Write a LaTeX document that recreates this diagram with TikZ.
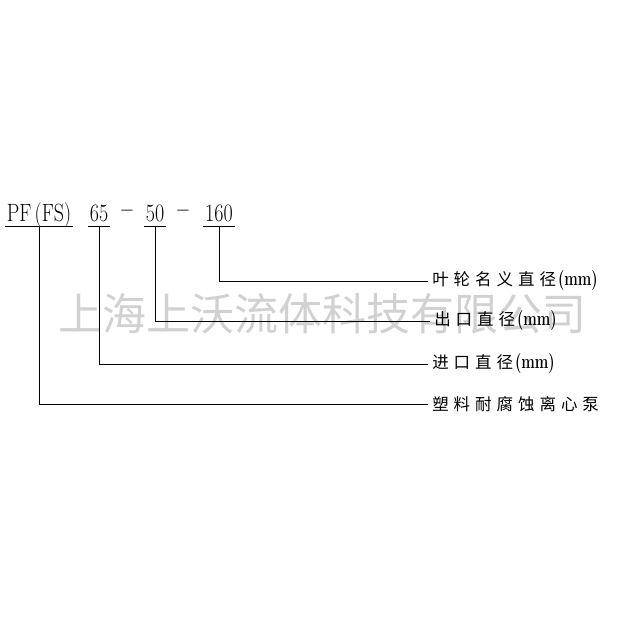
\documentclass[tikz,border=0pt]{standalone}
\usepackage{fontspec}
\newfontfamily\cjk[LetterSpace=30]{Noto Sans CJK SC}
\newfontfamily\wmark{Noto Sans CJK SC}
\newcommand{\code}[1]{\scalebox{0.8}[1]{#1}}
\newcommand{\mmunit}{\kern2pt\rmfamily\bfseries\fontsize{20}{20}\selectfont\scalebox{0.72}[1]{(mm)}}

\begin{document}
\begin{tikzpicture}[x=1pt,y=-1pt,line width=0.6pt,
  part/.style={font=\fontsize{25}{25}\selectfont,anchor=base,text depth=0pt,inner xsep=1.5pt,inner ysep=5pt},
  desc/.style={font=\fontsize{16.5}{16.5}\selectfont,anchor=west,inner xsep=4pt,inner ysep=0pt}]
\useasboundingbox (0,0) rectangle (618,618);
\node[text=black!18,font=\wmark\fontsize{44}{44}\selectfont] (W) at (322,314) {上海上沃流体科技有限公司};
\node[part] (T0) at (39,221) {\code{PF\,(FS)}};
\node[part] (T1) at (99,221) {\code{65}};
\node[part] (D0) at (127,221) {\code{\raisebox{4pt}{\bfseries --}}};
\node[part] (T2) at (155,221) {\code{50}};
\node[part] (D1) at (183,221) {\code{\raisebox{4pt}{\bfseries --}}};
\node[part] (T3) at (219,221) {\code{160}};
\node[desc] (L0) at (428,281) {\cjk 叶轮名义直径\mmunit};
\node[desc] (L1) at (430,321) {\cjk 出口直径\mmunit};
\node[desc] (L2) at (428,364) {\cjk 进口直径\mmunit};
\node[desc] (L3) at (428,404) {\cjk 塑料耐腐蚀离心泵};
\draw (T0.south west) -- (T0.south east);
\draw (T1.south west) -- (T1.south east);
\draw (T2.south west) -- (T2.south east);
\draw (T3.south west) -- (T3.south east);
\draw (T3.south) |- (L0.west);
\draw (T2.south) |- (L1.west);
\draw (T1.south) |- (L2.west);
\draw (T0.south) |- (L3.west);
\end{tikzpicture}
\end{document}
